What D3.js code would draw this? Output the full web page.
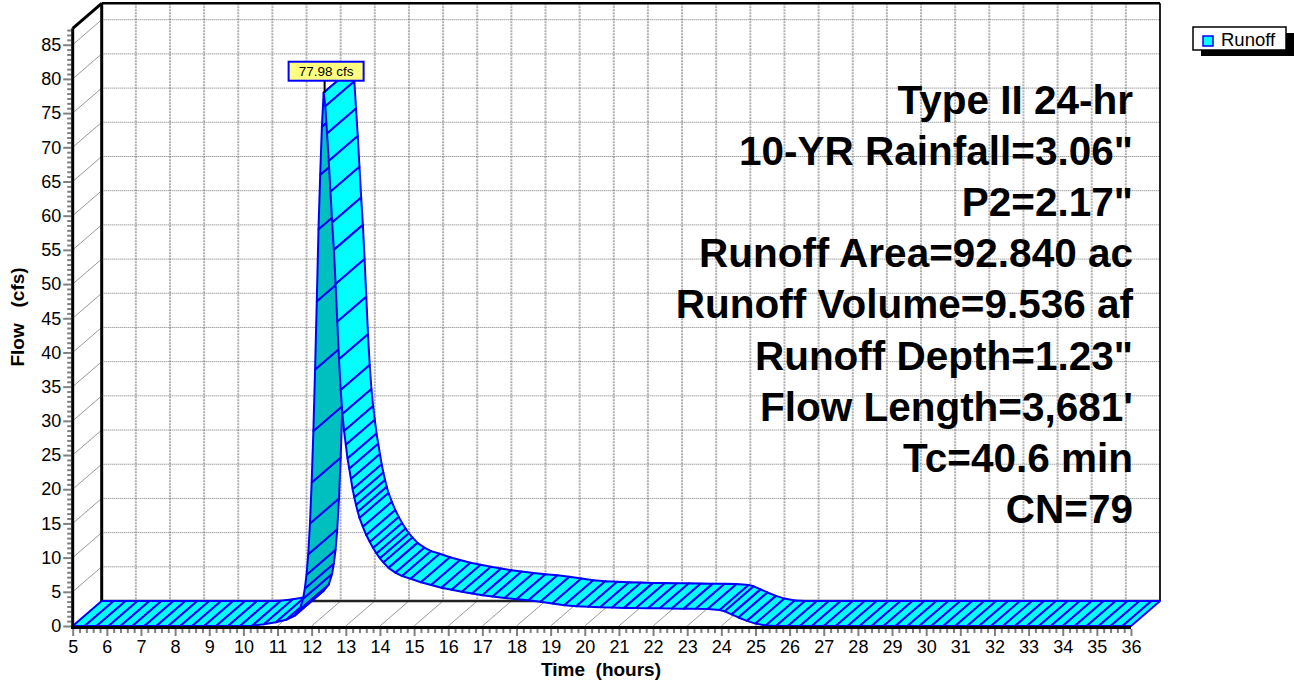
<!DOCTYPE html>
<html>
<head>
<meta charset="utf-8">
<script src="https://cdn.jsdelivr.net/npm/d3@7"></script>
<style>
  body { margin: 0; background: #fff; }
  svg { display: block; font-family: Arial, "Liberation Sans", sans-serif; }
</style>
</head>
<body>
<svg width="1294" height="684"></svg>
<script>
// Runoff hydrograph, [time (hours), flow (cfs)]
const hydrograph = [
  [5.00, 0], [5.35, 0], [5.70, 0], [6.05, 0], [6.40, 0], [6.75, 0], [7.10, 0], [7.45, 0],
  [7.80, 0], [8.15, 0], [8.50, 0], [8.85, 0], [9.20, 0], [9.55, 0], [9.90, 0], [10.25, 0.02],
  [10.60, 0.25], [10.95, 0.55], [11.25, 0.9], [11.50, 1.5], [11.65, 2.4], [11.75, 4.0],
  [11.80, 5.5], [11.85, 7.5], [11.90, 10.5], [11.95, 15.0], [12.00, 21.0], [12.05, 28.5],
  [12.10, 37.5], [12.15, 47.5], [12.20, 58.0], [12.25, 66.0], [12.30, 73.0], [12.35, 77.98],
  [12.40, 76.0], [12.45, 72.0], [12.50, 68.0], [12.55, 63.5], [12.60, 59.0], [12.65, 55.0],
  [12.70, 50.0], [12.75, 44.5], [12.80, 39.0], [12.85, 34.5], [12.90, 31.0], [12.95, 28.5],
  [13.00, 26.5], [13.05, 24.5], [13.10, 23.0], [13.15, 21.5], [13.20, 20.0], [13.25, 18.8],
  [13.30, 17.7], [13.35, 16.7], [13.40, 15.8], [13.50, 14.5], [13.60, 13.3], [13.70, 12.3],
  [13.80, 11.4], [13.90, 10.6], [14.00, 9.9], [14.10, 9.3], [14.25, 8.5], [14.45, 7.8],
  [14.65, 7.3], [14.90, 6.9], [15.20, 6.4], [15.50, 6.0], [15.80, 5.6], [16.10, 5.3],
  [16.40, 5.0], [16.70, 4.75], [17.00, 4.5], [17.30, 4.3], [17.65, 4.1], [18.00, 3.9],
  [18.35, 3.75], [18.70, 3.55], [19.05, 3.3], [19.40, 3.05], [19.75, 2.9], [20.10, 2.8],
  [20.45, 2.75], [20.80, 2.7], [21.15, 2.65], [21.50, 2.62], [21.85, 2.6], [22.20, 2.58],
  [22.55, 2.56], [22.90, 2.54], [23.25, 2.52], [23.60, 2.5], [23.95, 2.35], [24.10, 2.15],
  [24.30, 1.7], [24.50, 1.25], [24.75, 0.75], [25.00, 0.35], [25.30, 0.08], [25.60, 0],
  [25.95, 0], [26.30, 0], [26.65, 0], [27.00, 0], [27.35, 0], [27.70, 0], [28.05, 0],
  [28.40, 0], [28.75, 0], [29.10, 0], [29.45, 0], [29.80, 0], [30.15, 0], [30.50, 0],
  [30.85, 0], [31.20, 0], [31.55, 0], [31.90, 0], [32.25, 0], [32.60, 0], [32.95, 0],
  [33.30, 0], [33.65, 0], [34.00, 0], [34.35, 0], [34.70, 0], [35.05, 0], [35.40, 0],
  [35.75, 0], [36.00, 0]
];

const xTicks = d3.range(5, 37);          // hours
const yTicks = d3.range(0, 86, 5);       // cfs
const peakLabel = "77.98 cfs";
const seriesName = "Runoff";
const infoLines = [
  "Type II 24-hr",
  "10-YR Rainfall=3.06\"",
  "P2=2.17\"",
  "Runoff Area=92.840 ac",
  "Runoff Volume=9.536 af",
  "Runoff Depth=1.23\"",
  "Flow Length=3,681'",
  "Tc=40.6 min",
  "CN=79"
];

const svg = d3.select("svg");

// depth offset of the back wall
const DX = 29, DY = -25;

const x = d3.scaleLinear().domain([5, 36]).range([72.7, 1131]);
const y = d3.scaleLinear().domain([0, 87.4]).range([626, 28.3]);

const x0 = x.range()[0], x1 = x.range()[1];
const yBot = y(0), yTop = y.range()[1];

// back wall grid
const grid = svg.append("g");

grid.selectAll(".vgrid")
  .data(xTicks.slice(1, -1))
  .join("line")
  .attr("x1", d => x(d) + DX).attr("x2", d => x(d) + DX)
  .attr("y1", yTop + DY).attr("y2", yBot + DY)
  .attr("stroke", "#b0b0b0").attr("stroke-width", 2).attr("stroke-dasharray", "2,1");

grid.selectAll(".hgrid")
  .data(yTicks.slice(1))
  .join("line")
  .attr("x1", x0 + DX).attr("x2", x1 + DX)
  .attr("y1", d => y(d) + DY).attr("y2", d => y(d) + DY)
  .attr("stroke", "#777").attr("stroke-width", 1).attr("stroke-dasharray", "1,1");

// side wall and floor diagonals
grid.selectAll(".wall")
  .data(yTicks.slice(1))
  .join("line")
  .attr("x1", x0).attr("y1", d => y(d))
  .attr("x2", x0 + DX).attr("y2", d => y(d) + DY)
  .attr("stroke", "#999").attr("stroke-width", 1);

grid.selectAll(".floor")
  .data(xTicks)
  .join("line")
  .attr("x1", d => x(d)).attr("y1", yBot)
  .attr("x2", d => x(d) + DX).attr("y2", yBot + DY)
  .attr("stroke", "#999").attr("stroke-width", 1);

// frame of the back wall
const frame = svg.append("g").attr("stroke", "#000").attr("fill", "none");
frame.append("line").attr("x1", x0 + DX).attr("x2", x1 + DX).attr("y1", yBot + DY).attr("y2", yBot + DY)
  .attr("stroke-width", 2.5).attr("stroke", "#222");
frame.append("line").attr("x1", x1 + DX).attr("x2", x1 + DX).attr("y1", yTop + DY).attr("y2", yBot + DY)
  .attr("stroke-width", 2).attr("stroke", "#222");
frame.append("line").attr("x1", x0 + DX).attr("x2", x1 + DX).attr("y1", yTop + DY).attr("y2", yTop + DY)
  .attr("stroke-width", 2.5);
frame.append("line").attr("x1", x0 + DX).attr("x2", x0 + DX).attr("y1", yTop + DY).attr("y2", yBot + DY)
  .attr("stroke-width", 3);
frame.append("line").attr("x1", x0).attr("y1", yTop).attr("x2", x0 + DX).attr("y2", yTop + DY)
  .attr("stroke-width", 3);

// ribbon: one quad per segment, shaded by which side faces us
const pts = hydrograph.map(d => [x(d[0]), y(d[1])]);
const quads = d3.pairs(pts).map(([a, b]) => ({
  poly: [a, b, [b[0] + DX, b[1] + DY], [a[0] + DX, a[1] + DY]],
  under: (b[0] - a[0]) * DY - (b[1] - a[1]) * DX > 0
}));

svg.append("g")
  .selectAll("polygon")
  .data(quads)
  .join("polygon")
  .attr("points", d => d.poly.map(p => p.join(",")).join(" "))
  .attr("fill", d => d.under ? "#00bfbf" : "#00ffff")
  .attr("stroke", "#0000ff")
  .attr("stroke-width", 2)
  .attr("stroke-linejoin", "round");

// axes
const tickColor = "#808080";

const xMinor = d3.range(0, 156).map(i => 5 + i * 0.2).filter((d, i) => i % 5 !== 0);
svg.append("g")
  .attr("transform", `translate(0,${yBot + 3})`)
  .call(d3.axisBottom(x).tickValues(xMinor).tickSize(4).tickFormat(""))
  .call(g => g.select(".domain").remove())
  .call(g => g.selectAll("line").attr("stroke", tickColor).attr("stroke-width", 2));

svg.append("g")
  .attr("transform", `translate(0,${yBot + 3})`)
  .call(d3.axisBottom(x).tickValues(xTicks).tickSize(7).tickPadding(4).tickFormat(d3.format("d")))
  .call(g => g.select(".domain").remove())
  .call(g => g.selectAll("line").attr("stroke", tickColor).attr("stroke-width", 2))
  .call(g => g.selectAll("text").attr("font-size", 18).attr("fill", "#000")
    .attr("font-family", "Arial, 'Liberation Sans', sans-serif"));

const yMinor = d3.range(0, 123).map(i => i * 5 / 7).filter((d, i) => i % 7 !== 0);
svg.append("g")
  .attr("transform", `translate(${x0 - 1.5},0)`)
  .call(d3.axisLeft(y).tickValues(yMinor).tickSize(4).tickFormat(""))
  .call(g => g.select(".domain").remove())
  .call(g => g.selectAll("line").attr("stroke", tickColor).attr("stroke-width", 2));

svg.append("g")
  .attr("transform", `translate(${x0 - 1.5},0)`)
  .call(d3.axisLeft(y).tickValues(yTicks).tickSize(8).tickPadding(2).tickFormat(d3.format("d")))
  .call(g => g.select(".domain").remove())
  .call(g => g.selectAll("line").attr("stroke", tickColor).attr("stroke-width", 2))
  .call(g => g.selectAll("text").attr("font-size", 18).attr("fill", "#000")
    .attr("font-family", "Arial, 'Liberation Sans', sans-serif"));

// front axis lines
svg.append("line").attr("x1", x0).attr("x2", x0).attr("y1", yTop).attr("y2", yBot + 3)
  .attr("stroke", "#000").attr("stroke-width", 3);
svg.append("line").attr("x1", x0 - 1.5).attr("x2", x1).attr("y1", yBot + 1.5).attr("y2", yBot + 1.5)
  .attr("stroke", "#000").attr("stroke-width", 3);

// axis titles
svg.append("text")
  .attr("x", 601).attr("y", 676)
  .attr("text-anchor", "middle").attr("font-size", 19).attr("font-weight", "bold")
  .attr("xml:space", "preserve")
  .text("Time  (hours)");

svg.append("text")
  .attr("transform", "translate(24,317) rotate(-90)")
  .attr("text-anchor", "middle").attr("font-size", 19).attr("font-weight", "bold")
  .attr("xml:space", "preserve")
  .text("Flow   (cfs)");

// info block
svg.append("g")
  .selectAll("text")
  .data(infoLines)
  .join("text")
  .attr("x", 1133)
  .attr("y", (d, i) => 114 + i * 51.1)
  .attr("text-anchor", "end")
  .attr("font-size", 40.5)
  .attr("font-weight", "bold")
  .text(d => d);

// peak label
const peak = hydrograph.reduce((a, b) => b[1] > a[1] ? b : a);
const px = x(peak[0]), py = y(peak[1]);
const lab = svg.append("g");
lab.append("line").attr("x1", px + 1).attr("x2", px + 1).attr("y1", py).attr("y2", py - 12)
  .attr("stroke", "#000").attr("stroke-width", 2);
lab.append("rect").attr("x", px - 35).attr("y", py - 31).attr("width", 75).attr("height", 19)
  .attr("fill", "#ffff80").attr("stroke", "#0000ff").attr("stroke-width", 2);
lab.append("text").attr("x", px + 2.5).attr("y", py - 17)
  .attr("text-anchor", "middle").attr("font-size", 13.5).text(peakLabel);

// legend
const leg = svg.append("g").attr("transform", "translate(1193,27)");
leg.append("rect").attr("x", 8).attr("y", 6).attr("width", 93).attr("height", 23).attr("fill", "#000");
leg.append("rect").attr("width", 93).attr("height", 23).attr("fill", "#fff")
  .attr("stroke", "#000").attr("stroke-width", 1.5);
leg.append("rect").attr("x", 10).attr("y", 9).attr("width", 10).attr("height", 10)
  .attr("fill", "#00ffff").attr("stroke", "#0000ff").attr("stroke-width", 1.5);
leg.append("text").attr("x", 28).attr("y", 19).attr("font-size", 18.5).text(seriesName);
</script>
</body>
</html>
